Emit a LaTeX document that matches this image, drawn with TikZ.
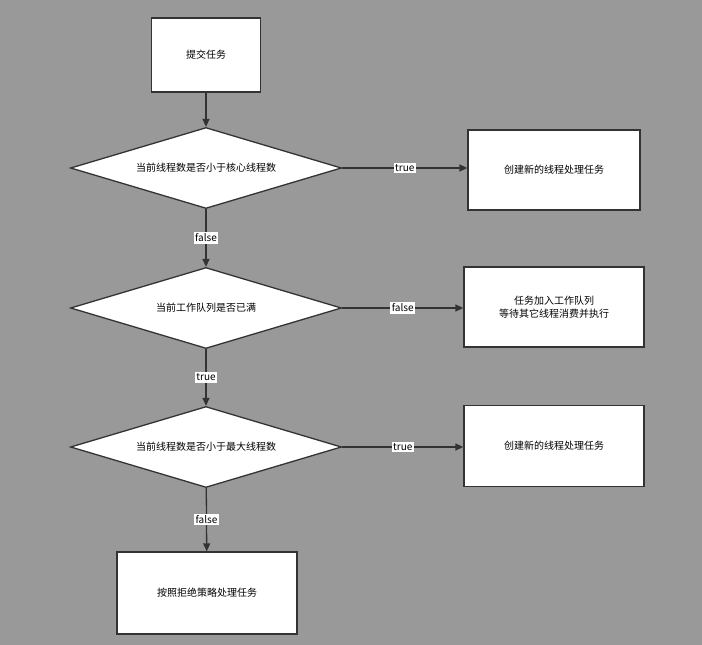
\documentclass[tikz,border=0pt]{standalone}
\usepackage{fontspec}
\setmainfont{Noto Sans CJK SC}
\usetikzlibrary{shapes.geometric,arrows.meta}
\definecolor{bggray}{HTML}{999999}
\definecolor{edge}{HTML}{333333}
\begin{document}
\begin{tikzpicture}[x=1pt, y=-1pt, font=\fontsize{10}{13}\selectfont,
    box/.style={draw=edge, line width=1.3pt, fill=white, minimum height=80pt, align=center, inner sep=0pt},
    cond/.style={diamond, draw=edge, line width=1.3pt, fill=white, aspect=3.35, minimum width=271pt, minimum height=81pt, inner sep=0pt},
    flow/.style={draw=edge, line width=1.3pt, -{Triangle[length=8pt,width=7pt]}},
    tag/.style={fill=white, inner sep=1.5pt, font=\fontsize{10}{12}\selectfont}]
    \fill[bggray] (0,0) rectangle (702,645);
    % Main column
    \node[box, minimum width=109pt, minimum height=74pt] (submit) at (206,55) {提交任务};
    \node[cond] (q1) at (206,168) {当前线程数是否小于核心线程数};
    \node[cond] (q2) at (206,308) {当前工作队列是否已满};
    \node[cond] (q3) at (206,447) {当前线程数是否小于最大线程数};
    \node[box, minimum width=180pt, minimum height=82pt] (reject) at (207,593) {按照拒绝策略处理任务};
    % Right column
    \node[box, minimum width=172pt] (create1) at (554,170) {创建新的线程处理任务};
    \node[box, minimum width=180pt] (queue) at (554,307) {任务加入工作队列\\等待其它线程消费并执行};
    \node[box, minimum width=180pt, minimum height=81pt] (create2) at (554,446) {创建新的线程处理任务};
    % Arrows
    \draw[flow] (submit) -- (q1);
    \draw[flow] (q1) -- node[tag] {false} (q2);
    \draw[flow] (q2) -- node[tag] {true} (q3);
    \draw[flow] (q3) -- node[tag] {false} (reject);
    \draw[flow] (q1.east) -- node[tag] {true} (create1.west |- q1.east);
    \draw[flow] (q2.east) -- node[tag] {false} (queue.west |- q2.east);
    \draw[flow] (q3.east) -- node[tag] {true} (create2.west |- q3.east);
\end{tikzpicture}
\end{document}
